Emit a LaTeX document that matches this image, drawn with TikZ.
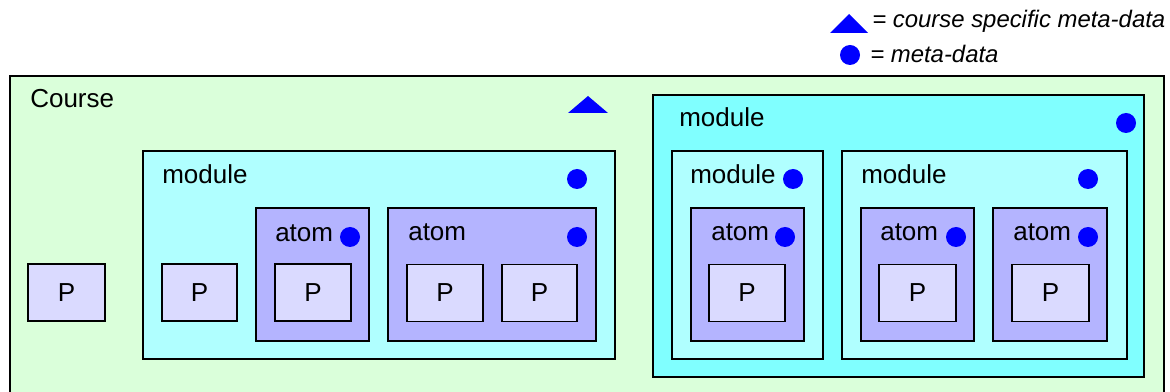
\documentclass[tikz,border=0pt]{standalone}
\usepackage{fontspec}
\setmainfont{Liberation Sans}
\usetikzlibrary{positioning}
\definecolor{CourseGreen}{RGB}{218,255,218}
\definecolor{ModuleCyan}{RGB}{176,255,255}
\definecolor{OuterCyan}{RGB}{128,255,255}
\definecolor{AtomBlue}{RGB}{180,180,255}
\definecolor{PageLilac}{RGB}{218,218,255}
\def\px{0.025cm}

\begin{document}
\begin{tikzpicture}[
  x=0.025cm, y=-0.025cm,
  box/.style={draw, line width=1.3pt, inner sep=0pt},
  course/.style={box, fill=CourseGreen},
  module/.style={box, fill=ModuleCyan},
  outer/.style={box, fill=OuterCyan},
  atom/.style={box, fill=AtomBlue},
  page/.style={box, fill=PageLilac, font=\fontsize{18.5}{22}\selectfont},
  wh/.style 2 args={minimum width=#1*\px, minimum height=#2*\px},
  lbl/.style={anchor=base west, inner sep=0pt, font=\fontsize{18.5}{22}\selectfont},
  legend/.style={anchor=base west, inner sep=0pt, font=\fontsize{17}{20}\selectfont\itshape},
  dot/.style={circle, fill=blue, inner sep=0pt, minimum size=20*\px}
]
\useasboundingbox (0,0) rectangle (1170,392);

% legend
\fill[blue] (830,33) -- (868,33) -- (849,14) -- cycle;
\node[legend] (keyTri) at (872,28) {= course specific meta-data};
\node[dot] (keyDot) at (850,55) {};
\node[legend] (keyDotTxt) at (870,63) {= meta-data};

% course (runs past the lower edge)
\node[course, wh={1154}{334}] (course) at (587,243) {};
\node[lbl] (courseLbl) at (30,108) {Course};
\fill[blue] (568,113) -- (608,113) -- (588,96) -- cycle;
\node[page, wh={77}{57}] (p0) at (66.5,292.5) {P};

% left module
\node[module, wh={472}{208}] (mod1) at (379,255) {};
\node[lbl] (mod1Lbl) at (162,184) {module};
\node[dot] (mod1Dot) at (577,179) {};
\node[page, wh={75}{57}] (p1) at (199.5,292.5) {P};

\node[atom, wh={113}{133}] (atom1) at (312.5,274.5) {};
\node[lbl] (atom1Lbl) at (275,242) {atom};
\node[dot] (atom1Dot) at (350,237) {};
\node[page, wh={76}{57}] (p2) at (313,292.5) {P};

\node[atom, wh={208}{133}] (atom2) at (492,274.5) {};
\node[lbl] (atom2Lbl) at (408,241) {atom};
\node[dot] (atom2Dot) at (577,237) {};
\node[page, wh={76}{57}] (p3) at (445,293) {P};
\node[page, wh={75}{57}] (p4) at (539.5,293) {P};

% right module
\node[outer, wh={491}{282}] (mod2) at (898.5,236) {};
\node[lbl] (mod2Lbl) at (679,127) {module};
\node[dot] (mod2Dot) at (1126,123) {};

\node[module, wh={151}{208}] (mod3) at (747.5,255) {};
\node[lbl] (mod3Lbl) at (690,184) {module};
\node[dot] (mod3Dot) at (793,179) {};
\node[atom, wh={113}{133}] (atom3) at (747.5,274.5) {};
\node[lbl] (atom3Lbl) at (711,241) {atom};
\node[dot] (atom3Dot) at (785,237) {};
\node[page, wh={76}{57}] (p5) at (747,293) {P};

\node[module, wh={285}{208}] (mod4) at (984.5,255) {};
\node[lbl] (mod4Lbl) at (861,184) {module};
\node[dot] (mod4Dot) at (1088,179) {};
\node[atom, wh={113}{133}] (atom4) at (917.5,274.5) {};
\node[lbl] (atom4Lbl) at (880,241) {atom};
\node[dot] (atom4Dot) at (956,237) {};
\node[page, wh={77}{57}] (p6) at (917.5,293) {P};
\node[atom, wh={114}{133}] (atom5) at (1050,274.5) {};
\node[lbl] (atom5Lbl) at (1013,241) {atom};
\node[dot] (atom5Dot) at (1088,237) {};
\node[page, wh={77}{57}] (p7) at (1050.5,293) {P};
\end{tikzpicture}
\end{document}
